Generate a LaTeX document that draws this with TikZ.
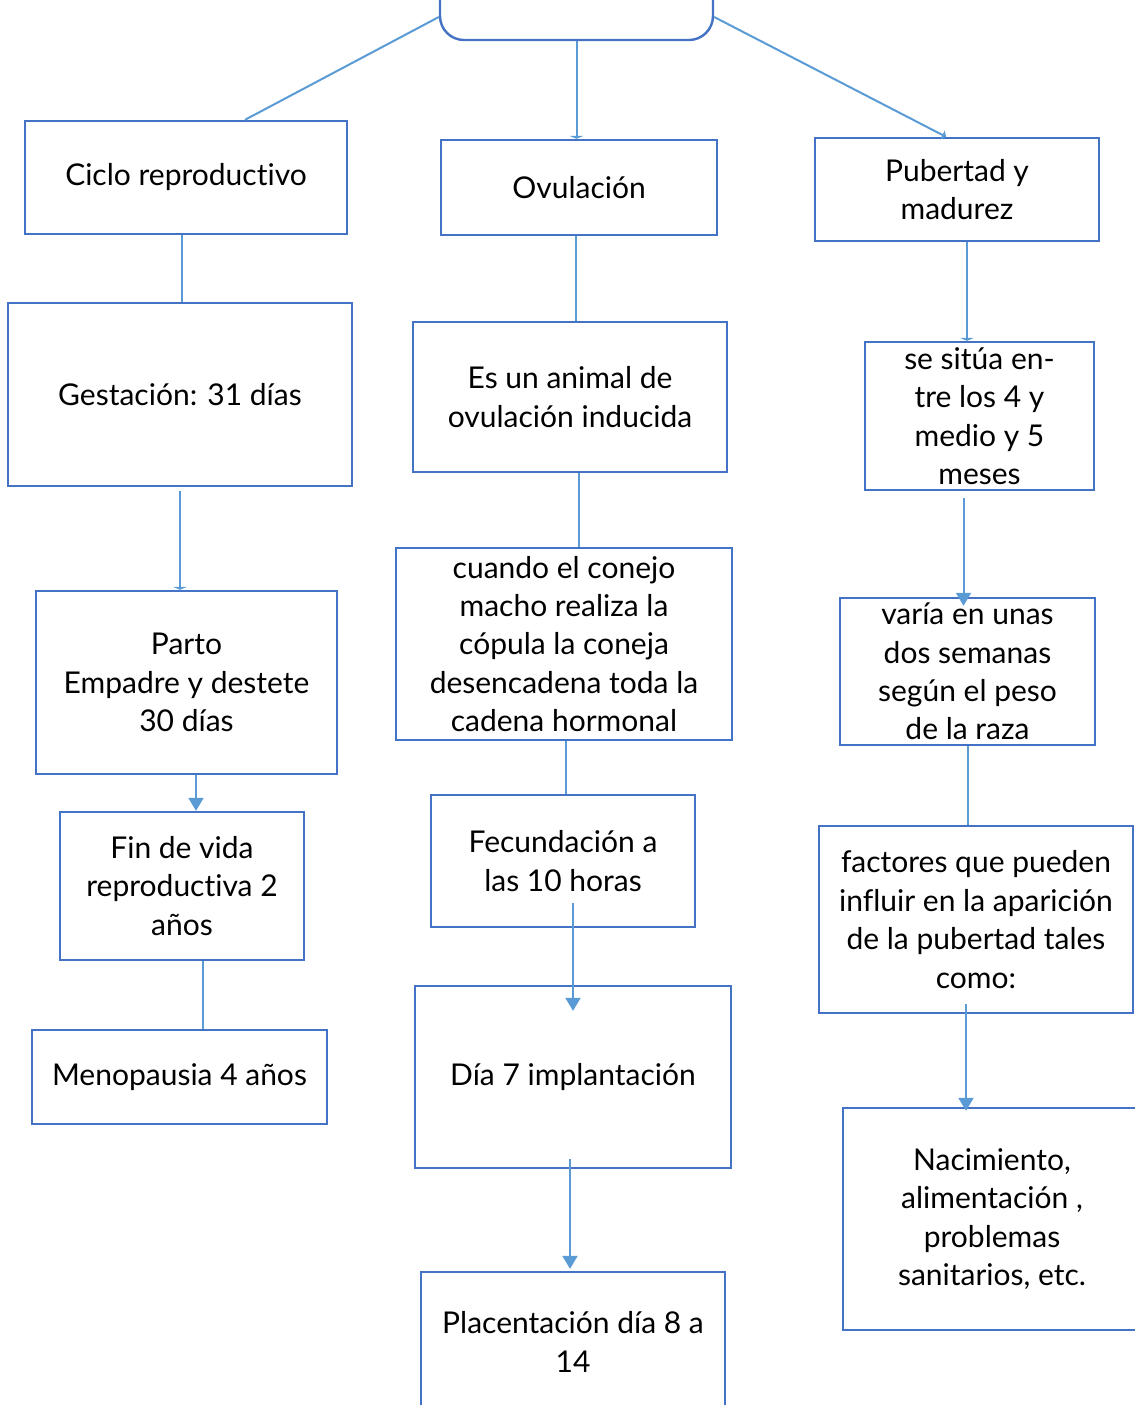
\documentclass[tikz,border=0pt]{standalone}
\usepackage{fontspec}
\setmainfont{Lato}[Ligatures=NoCommon]
\usetikzlibrary{arrows.meta}

\definecolor{boxblue}{HTML}{4472C4}
\definecolor{lineblue}{HTML}{5B9BD5}

\tikzset{
  box/.style={draw=boxblue, line width=1.2pt, align=center, inner sep=2pt, font=\fontsize{15}{19.2}\selectfont},
  conn/.style={draw=lineblue, line width=1pt},
  arr/.style={-{Triangle[width=7.5pt, length=6.5pt]}},
  flat/.style={-{Triangle[width=7pt, length=1.5pt]}},
}

\begin{document}
\begin{tikzpicture}[x=0.5pt, y=-0.5pt]
    \useasboundingbox (0,0) rectangle (1135,1405);

    % root
    \node [box, rounded corners=12pt, minimum width=136.5pt, minimum height=40pt] (top) at (576.5,0) {};

    % left column
    \node [box, minimum width=161pt,   minimum height=56.5pt] (ciclo) at (186,177.5)  {Ciclo reproductivo};
    \node [box, minimum width=172pt,   minimum height=91.5pt] (gest)  at (180,394.5)  {Gestación: 31 días};
    \node [box, minimum width=150.5pt, minimum height=91.5pt] (parto) at (186.5,682.5) {Parto\\Empadre y destete\\30 días};
    \node [box, minimum width=122pt,   minimum height=74pt]   (fin)   at (182,886)    {Fin de vida\\reproductiva 2\\años};
    \node [box, minimum width=147.5pt, minimum height=47pt]   (meno)  at (179.5,1077) {Menopausia 4 años};

    % middle column
    \node [box, minimum width=138pt, minimum height=47.5pt] (ovul)    at (579,187.5) {Ovulación};
    \node [box, minimum width=157pt, minimum height=75pt]   (esun)    at (570,397)   {Es un animal de\\ovulación inducida};
    \node [box, minimum width=168pt, minimum height=96pt]   (cuando)  at (564,644)   {cuando el conejo\\macho realiza la\\cópula la coneja\\desencadena toda la\\cadena hormonal};
    \node [box, minimum width=132pt, minimum height=66pt]   (fecund)  at (563,861)   {Fecundación a\\las 10 horas};
    \node [box, minimum width=158pt, minimum height=91pt]   (dia)     at (573,1077)  {Día 7 implantación};
    \node [box, minimum width=152pt, minimum height=70pt]   (placent) at (573,1342)  {Placentación día 8 a\\14};

    % right column
    \node [box, minimum width=142pt,   minimum height=51.5pt] (pub)   at (957,189.5)  {Pubertad y\\madurez};
    \node [box, minimum width=114.5pt, minimum height=74pt]   (situa) at (979.5,416)  {se sitúa en-\\tre los 4 y\\medio y 5\\meses};
    \node [box, minimum width=127.5pt, minimum height=73.5pt] (varia) at (967.5,671.5) {varía en unas\\dos semanas\\según el peso\\de la raza};
    \node [box, minimum width=157pt,   minimum height=93.5pt] (fact)  at (976,919.5)  {factores que pueden\\influir en la aparición\\de la pubertad tales\\como:};
    \node [box, minimum width=149pt,   minimum height=111pt]  (nacim) at (992,1219)   {Nacimiento,\\alimentación ,\\problemas\\sanitarios, etc.};

    % from root
    \draw [conn] ([yshift=-8.5pt]top.west) -- ([xshift=29.5pt]ciclo.north);
    \draw [conn, flat] (top.south) -- (top.south |- ovul.north);
    \draw [conn, -{Triangle[width=5pt, length=2pt]}] ([yshift=-8.5pt]top.east) -- ([xshift=-5.5pt]pub.north);

    % left
    \draw [conn] ([xshift=-2pt]ciclo.south) -- ([xshift=-2pt]ciclo.south |- gest.north);
    \draw [conn, flat] ([yshift=-2pt]gest.south) -- (gest.south |- parto.north);
    \draw [conn, arr] ([xshift=4.75pt]parto.south) -- ([xshift=4.75pt]parto.south |- fin.north);
    \draw [conn] ([xshift=10.5pt]fin.south) -- ([xshift=10.5pt]fin.south |- meno.north);

    % middle
    \draw [conn] ([xshift=-1.5pt]ovul.south) -- ([xshift=-1.5pt]ovul.south |- esun.north);
    \draw [conn] ([xshift=4.5pt]esun.south) -- ([xshift=4.5pt]esun.south |- cuando.north);
    \draw [conn] ([xshift=1pt]cuando.south) -- ([xshift=1pt]cuando.south |- fecund.north);
    \draw [conn, arr] ([yshift=12.5pt]fecund.south -| dia.north) -- ([yshift=-13pt]dia.north);
    \draw [conn, arr] ([xshift=-1.5pt, yshift=5pt]dia.south) -- ([xshift=-1.5pt, yshift=1pt]dia.south |- placent.north);

    % right
    \draw [conn, flat] ([xshift=5pt]pub.south) -- ([xshift=5pt]pub.south |- situa.north);
    \draw [conn, arr] ([xshift=-8pt, yshift=-3.5pt]situa.south) -- ([xshift=-8pt, yshift=-4.5pt]situa.south |- varia.north);
    \draw [conn] (varia.south) -- (varia.south |- fact.north);
    \draw [conn, arr] ([xshift=-5pt, yshift=5pt]fact.south) -- ([xshift=-5pt, yshift=-2pt]fact.south |- nacim.north);
\end{tikzpicture}
\end{document}
